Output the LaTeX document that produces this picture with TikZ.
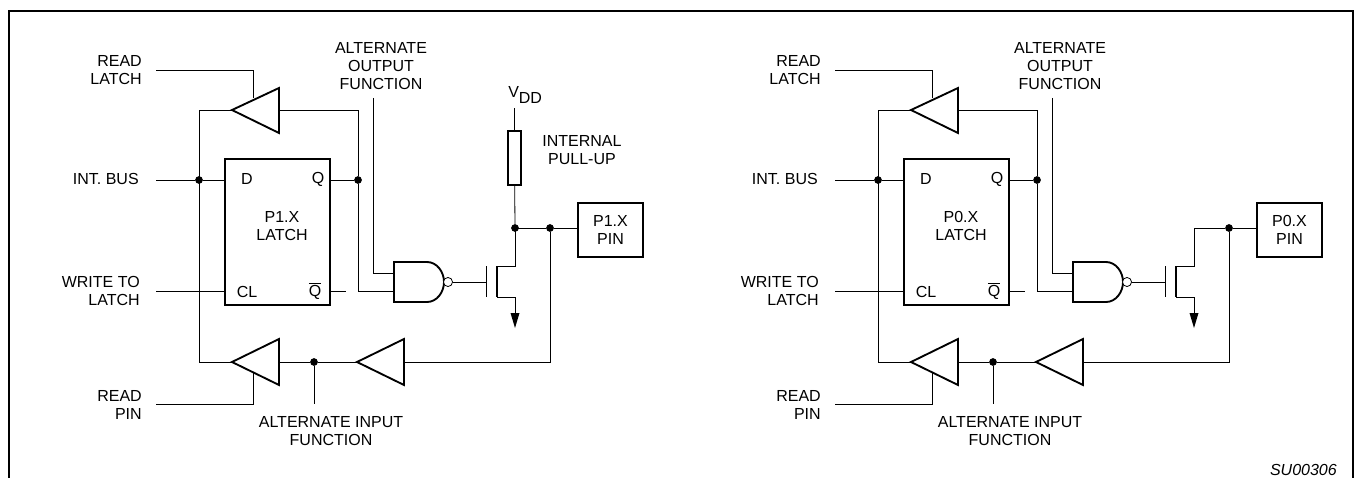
\documentclass[tikz,border=0pt]{standalone}
\usepackage{fontspec}
\setmainfont{Liberation Sans}
\usetikzlibrary{calc}

\tikzset{
    wire/.style = {line width = 0.6pt},
    heavy/.style = {line width = 1.4pt, line join = miter},
    label/.style = {inner sep = 0pt, align = center},
    junction/.style = {circle, fill, inner sep = 0pt, minimum size = 5.8pt},
    bubble/.style = {circle, draw, fill = white, line width = 0.6pt, inner sep = 0pt, minimum size = 6.8pt},
    latchbox/.style = {draw, heavy, minimum width = 78.75pt, minimum height = 109.5pt, outer sep = 0pt},
    pinbox/.style = {draw, heavy, label, minimum width = 48.75pt, minimum height = 40.5pt, outer sep = 0pt}
}

\begin{document}
\begin{tikzpicture}[x = 0.75pt, y = -0.75pt, font = \fontsize{12}{13.5}\selectfont]

        \useasboundingbox (0, 0) rectangle (1356, 478);

        % Frame, open at the bottom.
        \draw [line width = 1.5pt] (9, 478) to (9, 11) to (1353, 11) to (1353, 478);

        % Both port circuits share everything but the pull-up.
        \foreach \offs/\side/\port in {0/l-/P1.X, 679/r-/P0.X} {
        \begin{scope}[shift = {(\offs, 0)}, name prefix = \side]

            % Positions for all of the points.
            \coordinate (readlatch) at (156, 70);
            \coordinate (readpin) at (156, 404);
            \coordinate (intbus) at (156, 180);
            \coordinate (write) at (156, 291);
            \coordinate (altout) at (373, 98);
            \coordinate (altin) at (314, 404);
            \coordinate (bufA) at (232, 110);
            \coordinate (bufB) at (232, 362);
            \coordinate (bufC) at (357, 362);
            \coordinate (nandA) at (394, 273);
            \coordinate (nandB) at (394, 291);
            \coordinate (gate) at (486, 282);
            \coordinate (drain) at (497, 266);
            \coordinate (source) at (497, 297);
            \coordinate (ground) at (515, 328);
            \coordinate (joint) at (515, 228);

            % The boxes.
            \node (latch) [latchbox] at (277.5, 232) {};
            \node (pin) [pinbox] at (610.5, 230) {\port\\PIN};

            % Label the latch.
            \node (latchname) [label] at (282, 226) {\port\\LATCH};
            \node (dname) [label] at (247, 179) {D};
            \node (qname) [label] at (318, 179) {Q};
            \node (clname) [label] at (247, 292) {CL};
            \node (qbarname) [label] at (315, 291) {$\overline{\mbox{Q}}$};

            % Label the signals.
            \node (readlatchname) [label, align = right, anchor = east] at (142, 70) {READ\\LATCH};
            \node (intbusname) [label, anchor = east] at (139, 179) {INT. BUS};
            \node (writename) [label, align = right, anchor = east] at (140, 291) {WRITE TO\\LATCH};
            \node (readpinname) [label, align = right, anchor = east] at (142, 405) {READ\\PIN};
            \node (altoutname) [label] at (381, 66) {ALTERNATE\\OUTPUT\\FUNCTION};
            \node (altinname) [label] at (331, 431) {ALTERNATE INPUT\\FUNCTION};

            % Dots on the wires.
            \node (busdot) [junction] at (199, 180) {};
            \node (qdot) [junction] at (358, 180) {};
            \node (indot) [junction] at (314, 362) {};
            \node (pindot) [junction] at (550, 228) {};

            % Draw the three buffers.
            \draw [heavy] (bufA) to ++(47, -22) to ++(0, 45) to cycle;
            \draw [heavy] (bufB) to ++(47, -23) to ++(0, 46) to cycle;
            \draw [heavy] (bufC) to ++(47, -23) to ++(0, 46) to cycle;

            % Draw the gate in front of the transistor.
            \draw [heavy] (394, 262) to (427, 262) .. controls (437, 262) and (444, 272) .. (444, 282)
                .. controls (444, 292) and (437, 302) .. (427, 302) to (394, 302) to cycle;
            \node (nandout) [bubble] at (448, 282) {};

            % Draw the transistor.
            \draw [wire] (486, 266) to (486, 297);
            \draw [heavy] (drain) to (source);
            \draw [wire] (nandout) to (gate);
            \draw [wire] (drain) to (515, 266) to (joint) to (pindot) to (pin.west |- pindot);
            \draw [wire] (source) to (515, 297) to (515, 313);
            \fill (510.5, 313) to (519.5, 313) to (ground) to cycle;

            % Wires round the latch.
            \draw [wire] (readlatch) to (253, 70) to (253, 98);
            \draw [wire] (readpin) to (253, 404) to (253, 373);
            \draw [wire] (intbus) to (busdot) to (latch.west |- busdot);
            \draw [wire] (write) to (latch.west |- write);
            \draw [wire] (bufA) to (199, 110) to (199, 362) to (bufB);
            \draw [wire] (279, 110) to (358, 110) to (qdot);
            \draw [wire] (latch.east |- qdot) to (qdot) to (358, 291) to (nandB);
            \draw [wire] (latch.east |- write) to (346, 291);
            \draw [wire] (altout) to (373, 273) to (nandA);
            \draw [wire] (279, 362) to (indot) to (bufC);
            \draw [wire] (indot) to (altin);
            \draw [wire] (404, 362) to (550, 362) to (pindot);
        \end{scope}
        }

        % The pull-up only exists on the first circuit.
        \node (joint) [junction] at (l-joint) {};
        \node (pullup) [draw, heavy, minimum width = 9.75pt, minimum height = 40.5pt, outer sep = 0pt] at (514.5, 158) {};
        \coordinate (supply) at (514.5, 108);
        \draw [wire] (supply) to (pullup);
        \draw [wire] (pullup) to (joint);
        \node (vdd) [label, anchor = base west] at (508, 98) {V\raisebox{-4.2pt}{DD}};
        \node (pullupname) [label] at (582, 150) {INTERNAL\\PULL-UP};

        % Drawing number.
        \node (drawing) [label, anchor = east] at (1337, 470) {\itshape SU00306};
    \end{tikzpicture}
\end{document}
